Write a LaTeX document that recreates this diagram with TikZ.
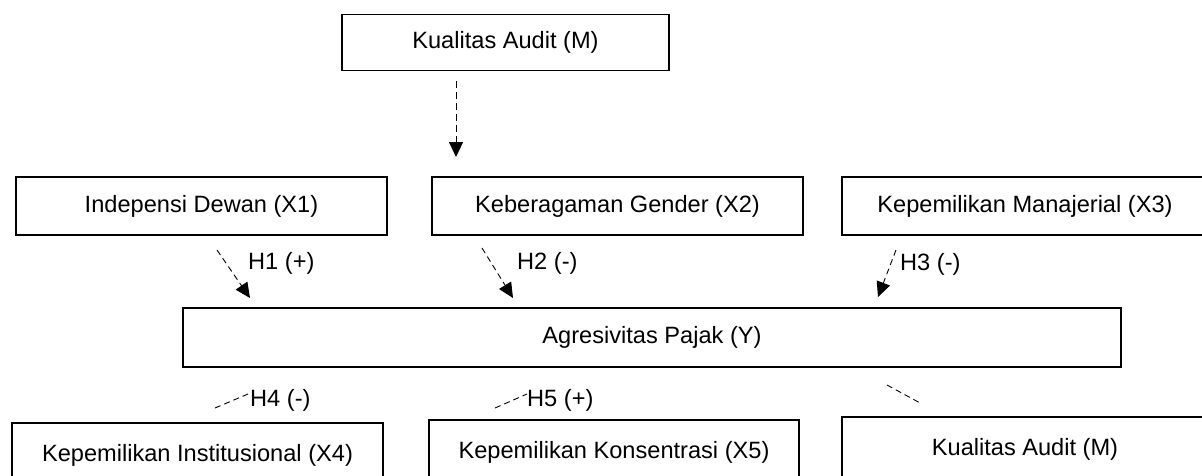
\documentclass[tikz,border=0pt]{standalone}
\usepackage{fontspec}
\setmainfont{Liberation Sans}
\usetikzlibrary{arrows.meta}
\begin{document}
\begin{tikzpicture}[x=1pt,y=-1pt,
  boxnode/.style={draw=black,line width=1.6pt,rectangle,inner sep=0pt,font=\fontsize{23.6}{28}\selectfont},
  lbl/.style={inner sep=0pt,anchor=west,font=\fontsize{23.6}{28}\selectfont},
  dashconn/.style={line width=0.9pt,dash pattern=on 6pt off 4pt},
  arrowconn/.style={dashconn,-{Triangle[length=15pt,width=14pt]}}]
\useasboundingbox (0,0) rectangle (1202,475);
\clip (0,0) rectangle (1202,475);
% boxes
\node[boxnode,minimum width=327pt,minimum height=56pt] (m1) at (505.5,42.5) {Kualitas Audit (M)};
\node[boxnode,minimum width=371pt,minimum height=58pt] (x1) at (201.5,206) {Indepensi Dewan (X1)};
\node[boxnode,minimum width=371pt,minimum height=58pt] (x2) at (617.5,206) {Keberagaman Gender (X2)};
\node[boxnode,minimum width=366pt,minimum height=58pt] (x3) at (1025,206) {Kepemilikan Manajerial (X3)};
\node[boxnode,minimum width=938pt,minimum height=59pt] (y) at (652,337.5) {Agresivitas Pajak (Y)};
\node[boxnode,minimum width=371pt,minimum height=64pt] (x4) at (197.5,455) {\raisebox{5pt}{Kepemilikan Institusional (X4)}};
\node[boxnode,minimum width=370pt,minimum height=64pt] (x5) at (614,452) {\raisebox{4pt}{Kepemilikan Konsentrasi (X5)}};
\node[boxnode,minimum width=366pt,minimum height=64pt] (m2) at (1025,449) {\raisebox{4pt}{Kualitas Audit (M)}};
% connector endpoints
\coordinate (ms) at (456,81);
\coordinate (me) at (456,157);
\coordinate (h1s) at (217,250);
\coordinate (h1e) at (250,298);
\coordinate (h2s) at (482,248);
\coordinate (h2e) at (513,298);
\coordinate (h3s) at (896,250);
\coordinate (h3e) at (878,297);
\coordinate (h4s) at (215,408);
\coordinate (h4e) at (248,394);
\coordinate (h5s) at (495,408);
\coordinate (h5e) at (527,394);
\coordinate (h6s) at (887,385);
\coordinate (h6e) at (922,404);
% connectors
\draw[arrowconn,dash pattern=on 7pt off 4pt] (ms) -- (me);
\draw[arrowconn] (h1s) -- (h1e);
\draw[arrowconn] (h2s) -- (h2e);
\draw[arrowconn] (h3s) -- (h3e);
\draw[dashconn] (h4s) -- (h4e);
\draw[dashconn] (h5s) -- (h5e);
\draw[dashconn] (h6s) -- (h6e);
% labels
\node[lbl] (l1) at (248,263) {H1 (+)};
\node[lbl] (l2) at (517,263) {H2 (-)};
\node[lbl] (l3) at (900,264) {H3 (-)};
\node[lbl] (l4) at (250,400) {H4 (-)};
\node[lbl] (l5) at (527,400) {H5 (+)};
\end{tikzpicture}
\end{document}
